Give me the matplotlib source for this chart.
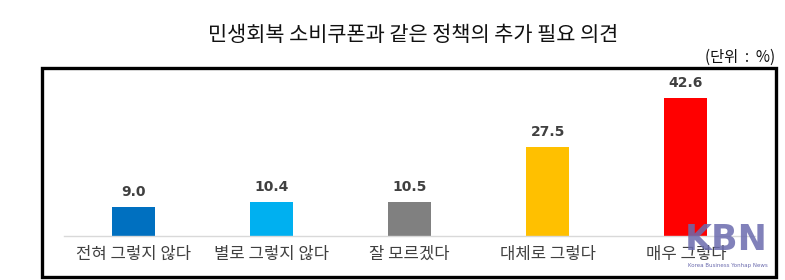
import matplotlib.pyplot as plt
from matplotlib.patches import Rectangle

plt.rcParams['font.family'] = ['Noto Sans CJK KR', 'DejaVu Sans']

categories = ["전혀 그렇지 않다", "별로 그렇지 않다", "잘 모르겠다", "대체로 그렇다", "매우 그렇다"]
values = [9.0, 10.4, 10.5, 27.5, 42.6]
colors = ["#0070C0", "#00B0F0", "#808080", "#FFC000", "#FF0000"]

W, H = 785, 280
fig = plt.figure(figsize=(W / 100, H / 100), dpi=100)

# outer black frame
fig.patches.append(Rectangle((42 / W, 1 - 277 / H), (776 - 42) / W, (277 - 68) / H,
                             transform=fig.transFigure, fill=False,
                             edgecolor="black", linewidth=2.4))

fig.text(413 / W, 1 - 35 / H, "민생회복 소비쿠폰과 같은 정책의 추가 필요 의견",
         ha="center", va="center", fontsize=15, fontweight="light", color="#111111")
fig.text(775 / W, 1 - 57 / H, "(단위  :  %)", ha="right", va="center",
         fontsize=11, fontweight="light", color="#111111")

ax = fig.add_axes([64 / W, 1 - 236 / H, (755 - 64) / W, (236 - 80) / H])
x = range(len(values))
ax.bar(x, values, width=0.31, color=colors)
for i, v in enumerate(values):
    ax.text(i, v + 2.4, f"{v:.1f}", ha="center", va="bottom", fontsize=10,
            fontweight="bold", color="#404040", family="DejaVu Sans")

ax.set_xlim(-0.5, 4.5)
ax.set_ylim(0, 48.1)
ax.set_yticks([])
ax.set_xticks(list(x))
ax.set_xticklabels(categories, fontsize=12, color="#404040")
ax.tick_params(axis="x", length=0, pad=7)
for s in ["top", "right", "left"]:
    ax.spines[s].set_visible(False)
ax.spines["bottom"].set_color("#D9D9D9")
ax.spines["bottom"].set_linewidth(1)

# watermark
fig.text(768 / W, 1 - 240 / H, "KBN", ha="right", va="center", fontsize=25,
         fontweight="bold", color="#6B6BAE", alpha=0.85, family="DejaVu Sans")
fig.text(768 / W, 1 - 265 / H, "Korea Business Yonhap News", ha="right", va="center",
         fontsize=4, color="#6B6BAE", family="DejaVu Sans")

fig.savefig("out.png", dpi=100)
